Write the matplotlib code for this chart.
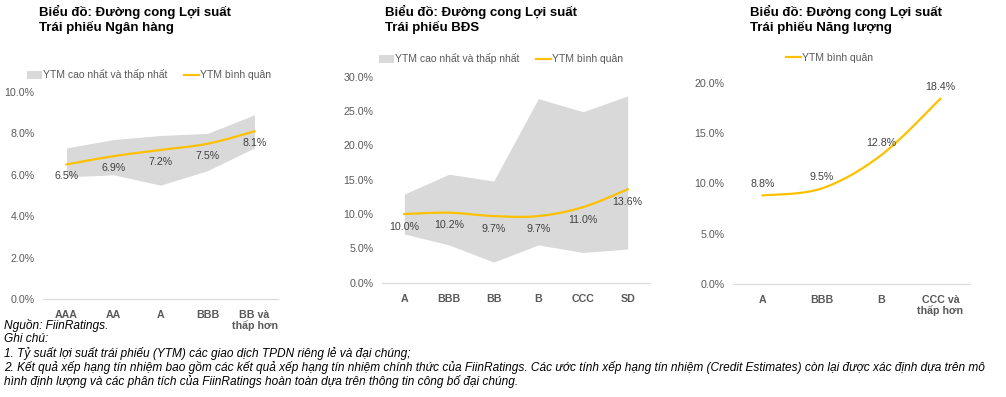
import numpy as np
import matplotlib
matplotlib.use("Agg")
import matplotlib.pyplot as plt
from matplotlib.patches import Patch
from matplotlib.lines import Line2D
from matplotlib.ticker import FuncFormatter

plt.rcParams['font.family'] = ['Liberation Sans', 'DejaVu Sans']

# --- data ---
bank_cats = ["AAA", "AA", "A", "BBB", "BB và\nthấp hơn"]
bank_max = [7.3, 7.7, 7.9, 8.0, 8.9]
bank_min = [5.9, 6.0, 5.5, 6.2, 7.3]
bank_avg = [6.5, 6.9, 7.2, 7.5, 8.1]

re_cats = ["A", "BBB", "BB", "B", "CCC", "SD"]
re_max = [12.9, 15.8, 14.8, 26.8, 24.9, 27.2]
re_min = [7.1, 5.5, 3.0, 5.5, 4.4, 4.9]
re_avg = [10.0, 10.2, 9.7, 9.7, 11.0, 13.6]

en_cats = ["A", "BBB", "B", "CCC và\nthấp hơn"]
en_avg = [8.8, 9.5, 12.8, 18.4]

YEL = "#FFC000"
BAND = "#D9D9D9"
GREY = "#595959"

W, H = 1006, 397
fig = plt.figure(figsize=(W / 100, H / 100), dpi=100)


def px_axes(x0, x1, ytop, ybot):
    return fig.add_axes([x0 / W, 1 - ybot / H, (x1 - x0) / W, (ybot - ytop) / H])


def smooth(y, n=30):
    # catmull-rom style smoothing like Excel's smoothed line
    y = np.asarray(y, float)
    x = np.arange(len(y), dtype=float)
    px, py = [], []
    for i in range(len(y) - 1):
        x0, y0 = x[i], y[i]
        x3, y3 = x[i + 1], y[i + 1]
        xm, ym = (x[i - 1], y[i - 1]) if i > 0 else (x0, y0)
        xp, yp = (x[i + 2], y[i + 2]) if i + 2 < len(y) else (x3, y3)
        c1 = (x0 + (x3 - xm) / 6, y0 + (y3 - ym) / 6)
        c2 = (x3 - (xp - x0) / 6, y3 - (yp - y0) / 6)
        t = np.linspace(0, 1, n)
        bx = (1-t)**3*x0 + 3*(1-t)**2*t*c1[0] + 3*(1-t)*t**2*c2[0] + t**3*x3
        by = (1-t)**3*y0 + 3*(1-t)**2*t*c1[1] + 3*(1-t)*t**2*c2[1] + t**3*y3
        px.extend(bx); py.extend(by)
    return np.array(px), np.array(py)


def style(ax, cats, ymax, step):
    n = len(cats)
    ax.set_xlim(-0.5, n - 0.5)
    ax.set_ylim(0, ymax)
    ax.set_yticks(np.arange(0, ymax + 0.01, step))
    ax.yaxis.set_major_formatter(FuncFormatter(lambda v, p: f"{v:.1f}%"))
    ax.set_xticks(range(n))
    ax.set_xticklabels(cats, fontweight="bold", linespacing=1.0)
    ax.tick_params(axis="both", length=0, labelsize=7.7, colors=GREY)
    ax.tick_params(axis="x", pad=8)
    ax.tick_params(axis="y", pad=6)
    for s in ["top", "right", "left"]:
        ax.spines[s].set_visible(False)
    ax.spines["bottom"].set_color(BAND)
    ax.spines["bottom"].set_linewidth(0.8)
    ax.set_facecolor("none")


def labels(ax, vals, dy):
    for i, v in enumerate(vals):
        ax.annotate(f"{v:.1f}%", (i, v), xytext=(0, dy), textcoords="offset points",
                    ha="center", va="center", fontsize=7.7, color="#404040")


# Panel 1 - banks
ax1 = px_axes(43, 278, 92, 299)
ax1.fill_between(range(len(bank_cats)), bank_min, bank_max, color=BAND, lw=0)
sx, sy = smooth(bank_avg)
ax1.plot(sx, sy, color=YEL, lw=1.6)
style(ax1, bank_cats, 10, 2)
labels(ax1, bank_avg, -8.5)

# Panel 2 - real estate
ax2 = px_axes(382, 650, 76.7, 282.7)
ax2.fill_between(range(len(re_cats)), re_min, re_max, color=BAND, lw=0)
sx, sy = smooth(re_avg)
ax2.plot(sx, sy, color=YEL, lw=1.6)
style(ax2, re_cats, 30, 5)
labels(ax2, re_avg, -9)

# Panel 3 - energy
ax3 = px_axes(733, 970, 82.7, 284)
sx, sy = smooth(en_avg)
ax3.plot(sx, sy, color=YEL, lw=1.6)
style(ax3, en_cats, 20, 5)
labels(ax3, en_avg, 8.5)

# titles
title_kw = dict(fontsize=9.5, fontweight="bold", color="black", va="top", ha="left",
                linespacing=1.15)
fig.text(39 / W, 1 - 5 / H, "Biểu đồ: Đường cong Lợi suất\nTrái phiếu Ngân hàng", **title_kw)
fig.text(385 / W, 1 - 5 / H, "Biểu đồ: Đường cong Lợi suất\nTrái phiếu BĐS", **title_kw)
fig.text(750 / W, 1 - 5 / H, "Biểu đồ: Đường cong Lợi suất\nTrái phiếu Năng lượng", **title_kw)

# legends
band_h = Patch(facecolor=BAND, edgecolor="none")
line_h = Line2D([], [], color=YEL, lw=1.6)
leg_kw = dict(frameon=False, fontsize=7.5, labelcolor=GREY, handlelength=1.4,
              handleheight=0.8, handletextpad=0.15, columnspacing=1.6, borderaxespad=0,
              borderpad=0, loc="center left")
fig.legend([band_h, line_h], ["YTM cao nhất và thấp nhất", "YTM bình quân"], ncol=2,
           bbox_to_anchor=(27 / W, 1 - 75 / H), **leg_kw)
fig.legend([band_h, line_h], ["YTM cao nhất và thấp nhất", "YTM bình quân"], ncol=2,
           bbox_to_anchor=(379 / W, 1 - 59 / H), **leg_kw)
fig.legend([line_h], ["YTM bình quân"], bbox_to_anchor=(786 / W, 1 - 58 / H), **leg_kw)

# footnotes
notes = [
    "Nguồn: FiinRatings.",
    "Ghi chú:",
    "1. Tỷ suất lợi suất trái phiếu (YTM) các giao dịch TPDN riêng lẻ và đại chúng;",
    "2. Kết quả xếp hạng tín nhiệm bao gồm các kết quả xếp hạng tín nhiệm chính thức của FiinRatings. "
    "Các ước tính xếp hạng tín nhiệm (Credit Estimates) còn lại được xác định dựa trên mô",
    "hình định lượng và các phân tích của FiinRatings hoàn toàn dựa trên thông tin công bố đại chúng.",
]
for i, t in enumerate(notes):
    fig.text(4 / W, 1 - (325 + 14 * i) / H, t, fontsize=8.6, style="italic",
             color="black", va="center", ha="left")

fig.savefig("out.png", dpi=100, facecolor="white")
